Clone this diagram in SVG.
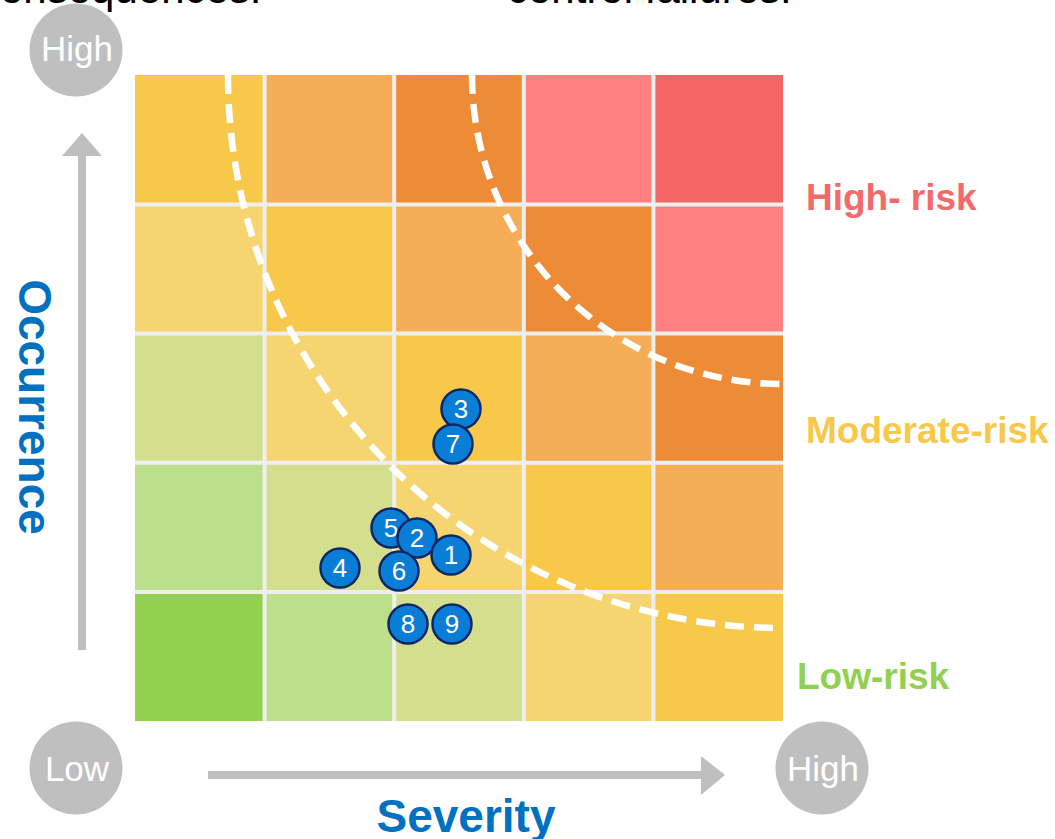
<svg xmlns="http://www.w3.org/2000/svg" width="1055" height="839" viewBox="0 0 1055 839">
  <style>
    .c-g  { fill: #92D050; }
    .c-lg { fill: #BBDF8B; }
    .c-pg { fill: #D4DF8E; }
    .c-ly { fill: #F6D470; }
    .c-y  { fill: #F7C84A; }
    .c-lo { fill: #F5AD57; }
    .c-o  { fill: #EE8B37; }
    .c-p  { fill: #FF8080; }
    .c-r  { fill: #F46666; }
    .gridline { stroke: #EFEFEF; stroke-width: 4; fill: none; }
    .zone { stroke: #FFFFFF; stroke-width: 6.5; fill: none; stroke-dasharray: 19 10; }
    .axis { stroke: #BFBFBF; stroke-width: 8; fill: none; }
    .axis-head { fill: #BFBFBF; }
    .pole circle { fill: #BFBFBF; }
    .pole text { font-family: "Liberation Sans", Arial, sans-serif; font-size: 35px; fill: #FFFFFF; text-anchor: middle; }
    .axis-title { font-family: "Liberation Sans", Arial, sans-serif; font-weight: bold; font-size: 46px; fill: #0070C0; text-anchor: middle; }
    .risk { font-family: "Liberation Sans", Arial, sans-serif; font-weight: bold; font-size: 37px; }
    .marker circle { fill: #0A7DD6; stroke: #0C2766; stroke-width: 2.5; }
    .marker text { font-family: "Liberation Sans", Arial, sans-serif; font-size: 26px; fill: #FFFFFF; text-anchor: middle; }
    .caption { font-family: "Liberation Sans", Arial, sans-serif; font-size: 42px; fill: #000000; }
  </style>

  <rect width="1055" height="839" fill="#FFFFFF"/>

  <!-- caption lines running off the top edge -->
  <text class="caption" x="-21" y="3">consequences.</text>
  <text class="caption" x="507" y="3">control failures.</text>

  <!-- 5x5 severity / occurrence matrix -->
  <g id="matrix">
    <!-- row 1 (highest occurrence) -->
    <rect class="c-y"  x="135"   y="75" width="129.6" height="129.4"/>
    <rect class="c-lo" x="264.6" y="75" width="129.6" height="129.4"/>
    <rect class="c-o"  x="394.2" y="75" width="129.6" height="129.4"/>
    <rect class="c-p"  x="523.8" y="75" width="129.6" height="129.4"/>
    <rect class="c-r"  x="653.4" y="75" width="129.6" height="129.4"/>
    <!-- row 2 -->
    <rect class="c-ly" x="135"   y="204.4" width="129.6" height="129.2"/>
    <rect class="c-y"  x="264.6" y="204.4" width="129.6" height="129.2"/>
    <rect class="c-lo" x="394.2" y="204.4" width="129.6" height="129.2"/>
    <rect class="c-o"  x="523.8" y="204.4" width="129.6" height="129.2"/>
    <rect class="c-p"  x="653.4" y="204.4" width="129.6" height="129.2"/>
    <!-- row 3 -->
    <rect class="c-pg" x="135"   y="333.6" width="129.6" height="129.2"/>
    <rect class="c-ly" x="264.6" y="333.6" width="129.6" height="129.2"/>
    <rect class="c-y"  x="394.2" y="333.6" width="129.6" height="129.2"/>
    <rect class="c-lo" x="523.8" y="333.6" width="129.6" height="129.2"/>
    <rect class="c-o"  x="653.4" y="333.6" width="129.6" height="129.2"/>
    <!-- row 4 -->
    <rect class="c-lg" x="135"   y="462.8" width="129.6" height="129.2"/>
    <rect class="c-pg" x="264.6" y="462.8" width="129.6" height="129.2"/>
    <rect class="c-ly" x="394.2" y="462.8" width="129.6" height="129.2"/>
    <rect class="c-y"  x="523.8" y="462.8" width="129.6" height="129.2"/>
    <rect class="c-lo" x="653.4" y="462.8" width="129.6" height="129.2"/>
    <!-- row 5 (lowest occurrence) -->
    <rect class="c-g"  x="135"   y="592" width="129.6" height="129"/>
    <rect class="c-lg" x="264.6" y="592" width="129.6" height="129"/>
    <rect class="c-pg" x="394.2" y="592" width="129.6" height="129"/>
    <rect class="c-ly" x="523.8" y="592" width="129.6" height="129"/>
    <rect class="c-y"  x="653.4" y="592" width="129.6" height="129"/>

    <!-- cell separators -->
    <path class="gridline" d="M264.6 75V721M394.2 75V721M523.8 75V721M653.4 75V721M135 204.4H783M135 333.6H783M135 462.8H783M135 592H783"/>
  </g>

  <!-- risk zone boundaries -->
  <g id="zones">
    <path class="zone" d="M228 75A555 553 0 0 0 783 628"/>
    <path class="zone" d="M472 75A311 309 0 0 0 783 384"/>
  </g>

  <!-- axes -->
  <g id="connectors">
    <line class="axis" x1="82" y1="650" x2="82" y2="153"/>
    <polygon class="axis-head" points="82,133 102,156 62,156"/>
    <line class="axis" x1="208" y1="775" x2="703" y2="775"/>
    <polygon class="axis-head" points="725,775 701,756 701,795"/>
  </g>

  <!-- axis end labels -->
  <g id="occurrence-high" class="pole">
    <circle cx="76" cy="50" r="46.5"/>
    <text x="77" y="61">High</text>
  </g>
  <g id="origin-low" class="pole">
    <circle cx="76" cy="768" r="46.5"/>
    <text x="77" y="781">Low</text>
  </g>
  <g id="severity-high" class="pole">
    <circle cx="822" cy="768" r="46.5"/>
    <text x="823" y="781">High</text>
  </g>

  <!-- axis titles -->
  <text id="severity-title" class="axis-title" x="466" y="832">Severity</text>
  <text id="occurrence-title" class="axis-title" transform="translate(19 407) rotate(90)">Occurrence</text>

  <!-- zone legend -->
  <text id="label-high" class="risk" x="806" y="210" fill="#F46A6A">High- risk</text>
  <text id="label-moderate" class="risk" x="806" y="443" fill="#F7C84A">Moderate-risk</text>
  <text id="label-low" class="risk" x="797" y="689" fill="#92D050">Low-risk</text>

  <!-- numbered items -->
  <g id="item-3" class="marker"><circle cx="461" cy="409" r="19.5"/><text x="461" y="418">3</text></g>
  <g id="item-7" class="marker"><circle cx="453" cy="444" r="19.5"/><text x="453" y="453">7</text></g>
  <g id="item-5" class="marker"><circle cx="391" cy="528" r="19.5"/><text x="391" y="537">5</text></g>
  <g id="item-2" class="marker"><circle cx="417" cy="538" r="19.5"/><text x="417" y="547">2</text></g>
  <g id="item-1" class="marker"><circle cx="451" cy="555" r="19.5"/><text x="451" y="564">1</text></g>
  <g id="item-6" class="marker"><circle cx="399" cy="571" r="19.5"/><text x="399" y="580">6</text></g>
  <g id="item-4" class="marker"><circle cx="340" cy="568" r="19.5"/><text x="340" y="577">4</text></g>
  <g id="item-8" class="marker"><circle cx="408" cy="624" r="19.5"/><text x="408" y="633">8</text></g>
  <g id="item-9" class="marker"><circle cx="452" cy="624" r="19.5"/><text x="452" y="633">9</text></g>
</svg>
